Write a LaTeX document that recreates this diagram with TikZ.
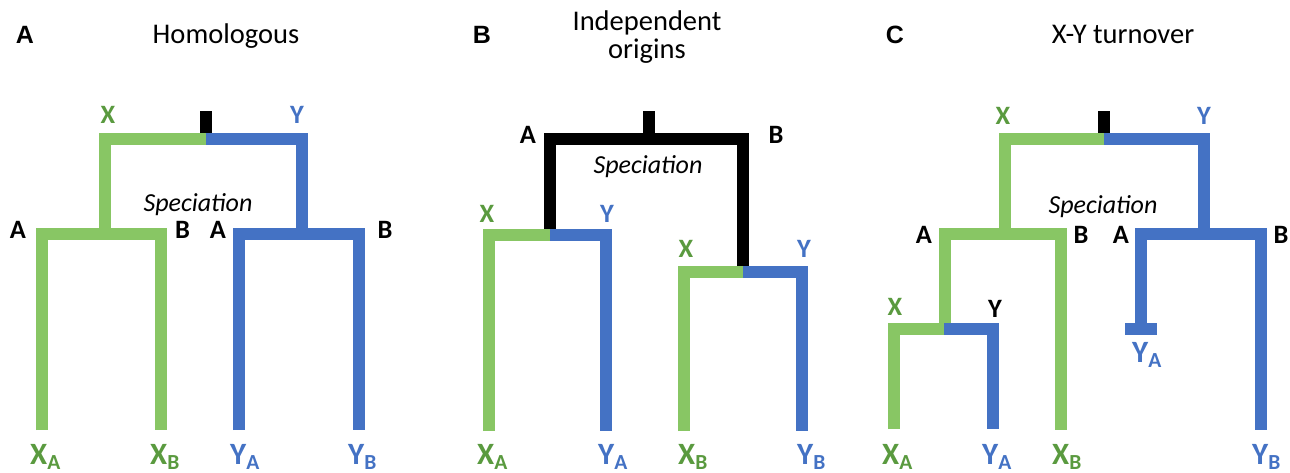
\documentclass[tikz,border=0pt]{standalone}
\usepackage{fontspec}
\setmainfont{Carlito}
\newfontfamily\arialfont{Liberation Sans}
\definecolor{lgreen}{HTML}{88C664}
\definecolor{tgreen}{HTML}{5A9A3F}
\definecolor{lblue}{HTML}{4472C4}
\begin{document}
\begin{tikzpicture}[x=1pt,y=-1pt,
  br/.style={line width=12pt, line join=miter, line cap=butt},
  gbr/.style={br, lgreen},
  bbr/.style={br, lblue},
  kbr/.style={br, black},
  panel/.style={font=\arialfont\bfseries\fontsize{25}{28}\selectfont, anchor=base, inner sep=0pt},
  ttl/.style={font=\fontsize{28.5}{28}\selectfont, anchor=base, inner sep=0pt, align=center},
  lab/.style={font=\bfseries\fontsize{26.5}{30}\selectfont, anchor=base, inner sep=0pt},
  spec/.style={font=\itshape\fontsize{26}{28}\selectfont, anchor=base, inner sep=0pt},
  leaf/.style={font=\bfseries\fontsize{31}{34}\selectfont, anchor=base west, inner sep=0pt},
]
\useasboundingbox (0,0) rectangle (1290,472);
\newcommand{\sbs}[1]{\raisebox{-5pt}{\fontsize{21.5}{24}\selectfont #1}}

% ---------- Panel A ----------
\node[panel] (pA) at (25,43) {A};
\node[ttl] (tA) at (226,43) {Homologous};
\draw[kbr] (205.5,111) -- (205.5,139);
\draw[gbr] (105,234) -- (105,139) -- (205.5,139);
\draw[bbr] (205.5,139) -- (302,139) -- (302,234);
\draw[gbr] (42,430) -- (42,234) -- (161,234) -- (161,430);
\draw[bbr] (239,430) -- (239,234) -- (359,234) -- (359,430);
\node[lab, text=tgreen] (aX) at (108,123) {X};
\node[lab, text=lblue] (aY) at (297,123) {Y};
\node[spec] (aS) at (198,211) {Speciation};
\node[lab] (aA1) at (18,238) {A};
\node[lab] (aB1) at (182.5,238) {B};
\node[lab] (aA2) at (218,238) {A};
\node[lab] (aB2) at (385,238) {B};
\node[leaf, text=tgreen] (aXA) at (30,464) {X\sbs{A}};
\node[leaf, text=tgreen] (aXB) at (150,464) {X\sbs{B}};
\node[leaf, text=lblue] (aYA) at (230,464) {Y\sbs{A}};
\node[leaf, text=lblue] (aYB) at (348,464) {Y\sbs{B}};

% ---------- Panel B ----------
\node[panel] (pB) at (482,43) {B};
\node[ttl] (tB1) at (647,30) {Independent};
\node[ttl] (tB2) at (647,58) {origins};
\draw[kbr] (649,111) -- (649,139);
\draw[kbr] (550,235) -- (550,139) -- (743,139) -- (743,272);
\draw[gbr] (489,431) -- (489,235) -- (550,235);
\draw[bbr] (550,235) -- (606,235) -- (606,431);
\draw[gbr] (684,431) -- (684,272) -- (743,272);
\draw[bbr] (743,272) -- (802,272) -- (802,431);
\node[lab] (bA) at (528,143) {A};
\node[lab] (bB) at (776,143) {B};
\node[spec] (bS) at (648,173) {Speciation};
\node[lab, text=tgreen] (bX1) at (487,222) {X};
\node[lab, text=lblue] (bY1) at (607,222) {Y};
\node[lab, text=tgreen] (bX2) at (686,257) {X};
\node[lab, text=lblue] (bY2) at (804,257) {Y};
\node[leaf, text=tgreen] (bXA) at (477,464) {X\sbs{A}};
\node[leaf, text=lblue] (bYA) at (598,464) {Y\sbs{A}};
\node[leaf, text=tgreen] (bXB) at (678,464) {X\sbs{B}};
\node[leaf, text=lblue] (bYB) at (797,464) {Y\sbs{B}};

% ---------- Panel C ----------
\node[panel] (pC) at (895,43) {C};
\node[ttl] (tC) at (1123,43) {X-Y turnover};
\draw[kbr] (1104,111) -- (1104,139);
\draw[gbr] (1005,234) -- (1005,139) -- (1104,139);
\draw[bbr] (1104,139) -- (1204,139) -- (1204,234);
\draw[gbr] (945,329) -- (945,234) -- (1061,234) -- (1061,430);
\draw[gbr] (894,429) -- (894,329) -- (944,329);
\draw[bbr] (944,329) -- (993,329) -- (993,429);
\draw[bbr] (1141,329) -- (1141,234) -- (1261,234) -- (1261,430);
\draw[bbr] (1125,329) -- (1157,329);
\node[lab, text=tgreen] (cX) at (1003,124) {X};
\node[lab, text=lblue] (cY) at (1204,124) {Y};
\node[spec] (cS) at (1103,213) {Speciation};
\node[lab] (cA1) at (924,243) {A};
\node[lab] (cB1) at (1081,243) {B};
\node[lab] (cA2) at (1121,243) {A};
\node[lab] (cB2) at (1281,243) {B};
\node[lab, text=tgreen] (cX2) at (895,315) {X};
\node[lab] (cY2) at (995,317) {Y};
\node[leaf, text=lblue] (cYAd) at (1132,362) {Y\sbs{A}};
\node[leaf, text=tgreen] (cXA) at (882,464) {X\sbs{A}};
\node[leaf, text=lblue] (cYA) at (982,464) {Y\sbs{A}};
\node[leaf, text=tgreen] (cXB) at (1052,464) {X\sbs{B}};
\node[leaf, text=lblue] (cYB) at (1252,464) {Y\sbs{B}};
\end{tikzpicture}
\end{document}
